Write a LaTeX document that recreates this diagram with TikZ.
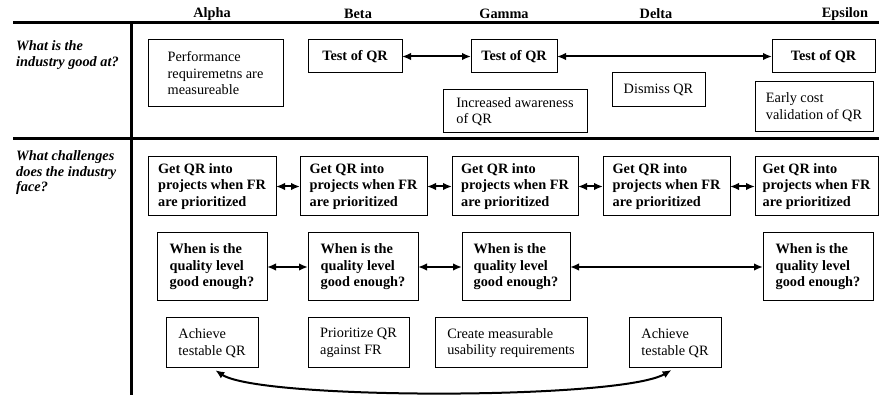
\documentclass[tikz,border=0pt]{standalone}
\usepackage{fontspec}
\setmainfont{Liberation Serif}
\usetikzlibrary{arrows.meta}
\begin{document}
\begin{tikzpicture}[x=1pt,y=-1pt,
  bx/.style={draw,line width=1pt,align=left,inner sep=0pt,outer sep=0pt,font=\fontsize{14.3}{16.5}\selectfont},
  bbx/.style={bx,font=\fontsize{14.3}{16.5}\selectfont\bfseries},
  hd/.style={font=\fontsize{14.3}{16.5}\selectfont\bfseries,inner sep=0pt},
  ql/.style={font=\fontsize{14.3}{15.5}\selectfont\bfseries\itshape,align=left,inner sep=0pt,anchor=west},
  sepline/.style={line width=3pt},
  dbl/.style={{Latex[length=9pt,width=7.5pt]}-{Latex[length=9pt,width=7.5pt]},line width=2pt}
]
\useasboundingbox (0,0) rectangle (879,395);
% frame
\coordinate (hl) at (13,23); \coordinate (hr) at (879,23);
\coordinate (ml) at (13,139); \coordinate (mr) at (879,139);
\coordinate (vt) at (131.5,23); \coordinate (vb) at (131.5,395);
\draw[sepline] (hl) -- (hr);
\draw[sepline] (ml) -- (mr);
\draw[sepline] (vt) -- (vb);
% headers
\node[hd] (hA) at (212,14) {Alpha};
\node[hd] (hB) at (358,14) {Beta};
\node[hd] (hG) at (504,14) {Gamma};
\node[hd] (hD) at (656,14) {Delta};
\node[hd] (hE) at (845,14) {Epsilon};
% row labels
\node[ql] (q1) at (16,55) {What is the\\industry good at?};
\node[ql] (q2) at (16,173) {What challenges\\does the industry\\face?};
% row 1
\node[bx,minimum width=135,minimum height=67] (perf) at (215.5,73.5) {Performance\\requiremetns are\\measureable};
\node[bbx,minimum width=94,minimum height=33] (tB) at (355,56.5) {Test of QR};
\node[bbx,minimum width=86,minimum height=33] (tG) at (514,56.5) {Test of QR};
\node[bbx,minimum width=103,minimum height=33] (tE) at (823.5,56.5) {Test of QR};
\node[bx,minimum width=93,minimum height=34] (dis) at (658.5,90) {Dismiss QR};
\node[bx,minimum width=144,minimum height=43] (inc) at (515,111.5) {Increased awareness\\of QR};
\node[bx,minimum width=118,minimum height=50] (ear) at (814,107) {Early cost\\validation of QR};
\draw[dbl] (tB) -- (tG);
\draw[dbl] (tG) -- (tE);
% row 2: Get QR
\node[bbx,minimum width=128,minimum height=59] (g1) at (212,186.5) {Get QR into\\projects when FR\\are prioritized};
\node[bbx,minimum width=127,minimum height=59] (g2) at (363.5,186.5) {Get QR into\\projects when FR\\are prioritized};
\node[bbx,minimum width=126,minimum height=59] (g3) at (515,186.5) {Get QR into\\projects when FR\\are prioritized};
\node[bbx,minimum width=127,minimum height=59] (g4) at (666.5,186.5) {Get QR into\\projects when FR\\are prioritized};
\node[bbx,minimum width=123,minimum height=59] (g5) at (816.5,186.5) {Get QR into\\projects when FR\\are prioritized};
\draw[dbl] (g1) -- (g2);
\draw[dbl] (g2) -- (g3);
\draw[dbl] (g3) -- (g4);
\draw[dbl] (g4) -- (g5);
% row 3: When
\node[bbx,minimum width=110,minimum height=68] (w1) at (212,267) {When is the\\quality level\\good enough?};
\node[bbx,minimum width=110,minimum height=68] (w2) at (363,267) {When is the\\quality level\\good enough?};
\node[bbx,minimum width=108,minimum height=68] (w3) at (516,267) {When is the\\quality level\\good enough?};
\node[bbx,minimum width=110,minimum height=68] (w5) at (818,267) {When is the\\quality level\\good enough?};
\draw[dbl] (w1) -- (w2);
\draw[dbl] (w2) -- (w3);
\draw[dbl] (w3) -- (w5);
% row 4
\node[bx,minimum width=92,minimum height=50] (a1) at (212,343) {Achieve\\testable QR};
\node[bx,minimum width=101,minimum height=50] (pr) at (358.5,343) {Prioritize QR\\against FR};
\node[bx,minimum width=152,minimum height=50] (cr) at (511,343) {Create measurable\\usability requirements};
\node[bx,minimum width=92,minimum height=50] (a2) at (675,343) {Achieve\\testable QR};
\draw[dbl,shorten <=4pt,shorten >=4pt] (a1.south) .. controls +(48,32) and +(-55,32) .. (a2.south);
\end{tikzpicture}
\end{document}
